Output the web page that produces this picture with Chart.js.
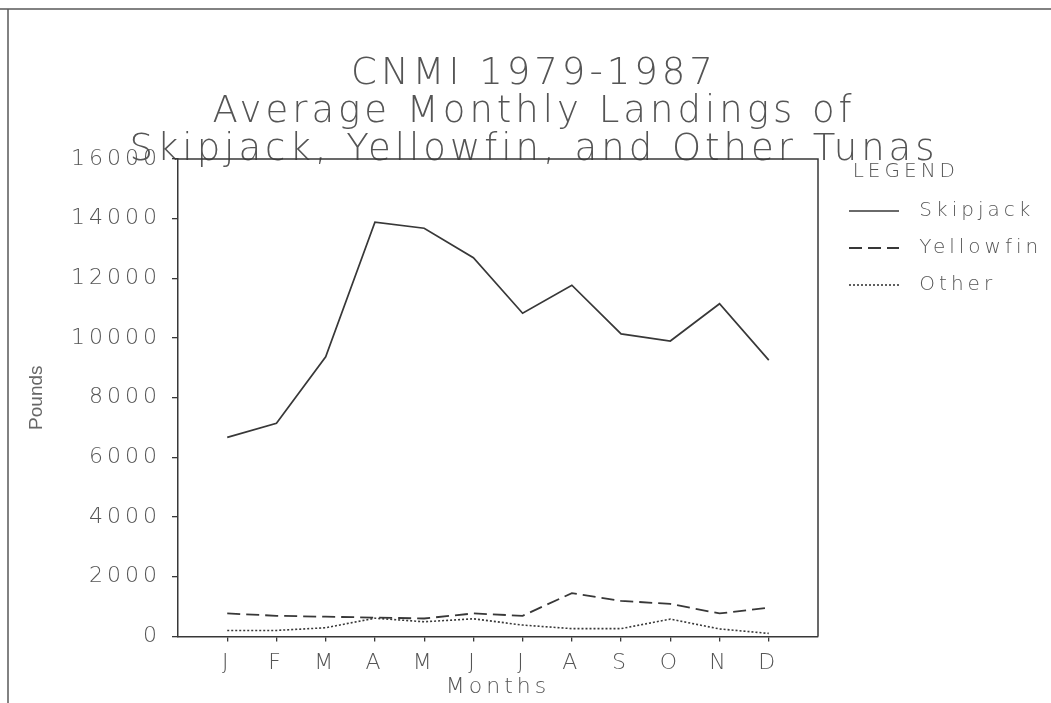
<!DOCTYPE html>
<html><head><meta charset="utf-8">
<script src="https://cdn.jsdelivr.net/npm/chart.js@4.4.1/dist/chart.umd.min.js"></script>
<style>html,body{margin:0;padding:0;background:#fff;}</style>
</head><body>
<canvas id="c" width="1051" height="703" style="width:1051px;height:703px;display:block"></canvas>
<script>
const titleLines = ['CNMI 1979-1987', 'Average Monthly Landings of', 'Skipjack, Yellowfin, and Other Tunas'];
const months = ['J','F','M','A','M','J','J','A','S','O','N','D'];
const seriesNames = ['Skipjack', 'Yellowfin', 'Other'];
const skipjack  = [6670, 7140, 9370, 13880, 13680, 12690, 10830, 11770, 10140, 9900, 11150, 9260];
const yellowfin = [770, 690, 660, 630, 600, 770, 690, 1450, 1190, 1090, 770, 960];
const other     = [200, 200, 290, 610, 490, 590, 380, 260, 260, 580, 250, 100];
const yTicks = [0, 2000, 4000, 6000, 8000, 10000, 12000, 14000, 16000];

const FONT = "'DejaVu Sans', sans-serif";
const TXT = '#555';
const LINE = '#383838';
const PLOT_RIGHT = 818, LEGEND_LEFT = 832, TITLE_CENTER = 534;
let rightGap = 14;

function pts(arr){ return arr.map((v,i)=>({x:i+1, y:v})); }

const spacing = {
  id: 'spacing',
  beforeUpdate(chart){ chart.ctx.letterSpacing = '4px'; },
  beforeLayout(chart){ chart.ctx.letterSpacing = '4px'; },
  afterLayout(chart){
    const lg = chart.legend;
    chart.$legendMeasured = lg.width;
    lg.left = LEGEND_LEFT; lg.right = 1051; lg.width = 1051 - LEGEND_LEFT;
    const t = chart.titleBlock;
    t.left = 0; t.right = TITLE_CENTER * 2; t.width = TITLE_CENTER * 2;
  },
  beforeDraw(chart){
    const ctx = chart.ctx;
    ctx.letterSpacing = '4px';
    ctx.save();
    ctx.strokeStyle = '#5a5a5a';
    ctx.lineWidth = 1.5;
    ctx.beginPath();
    ctx.moveTo(0, 9); ctx.lineTo(1051, 9);
    ctx.moveTo(8, 9); ctx.lineTo(8, 703);
    ctx.stroke();
    ctx.restore();
  },
  beforeDatasetsDraw(chart){
    const ctx = chart.ctx, a = chart.chartArea;
    ctx.letterSpacing = '0px';
    ctx.save();
    ctx.strokeStyle = LINE;
    ctx.lineWidth = 1.5;
    ctx.beginPath();
    ctx.moveTo(a.left, a.top); ctx.lineTo(a.right, a.top); ctx.lineTo(a.right, a.bottom);
    ctx.stroke();
    ctx.restore();
  }
};

const chart = new Chart(document.getElementById('c'), {
  type: 'line',
  data: {
    datasets: [
      { label: seriesNames[0], data: pts(skipjack), borderColor: LINE, backgroundColor: LINE, borderWidth: 1.7, pointRadius: 0, tension: 0 },
      { label: seriesNames[1], data: pts(yellowfin), borderColor: LINE, backgroundColor: LINE, borderWidth: 1.8, borderDash: [13, 6], pointRadius: 0, tension: 0 },
      { label: seriesNames[2], data: pts(other), borderColor: LINE, backgroundColor: LINE, borderWidth: 1.6, borderDash: [2, 2], pointRadius: 0, tension: 0 }
    ]
  },
  options: {
    responsive: false,
    devicePixelRatio: 1,
    animation: false,
    layout: { padding: { left: 10, right: 0, top: 0, bottom: 1.4 } },
    plugins: {
      tooltip: { enabled: false },
      title: {
        display: true, text: titleLines, color: TXT,
        font: { family: FONT, size: 37, weight: 200, lineHeight: 38/37 },
        padding: { top: 55, bottom: -10 }
      },
      legend: {
        position: 'right', align: 'start', fullSize: false,
        title: { display: true, text: '\u00a0\u00a0LEGEND', color: TXT, position: 'start',
                 font: { family: FONT, size: 20, weight: 200, lineHeight: 1.1 }, padding: { top: 3, bottom: 0 } },
        labels: {
          color: TXT, font: { family: FONT, size: 20, weight: 200 },
          usePointStyle: true, pointStyle: 'line', pointStyleWidth: 50, padding: 17,
          generateLabels(chart){
            return Chart.defaults.plugins.legend.labels.generateLabels(chart).map(l => {
              const ds = chart.data.datasets[l.datasetIndex];
              return Object.assign(l, { text: '\u00a0' + l.text, lineDash: ds.borderDash || [], lineWidth: ds.borderWidth, strokeStyle: ds.borderColor, fillStyle: ds.borderColor, pointStyle: 'line' });
            });
          }
        }
      }
    },
    scales: {
      x: {
        type: 'linear', position: 'bottom', min: 0, max: 13,
        afterBuildTicks(s){ s.ticks = months.map((m, i) => ({ value: i + 1 })); },
        afterFit(s){ s.height = 65.2; },
        ticks: { color: TXT, font: { family: FONT, size: 22, weight: 200 }, padding: 9, maxRotation: 0, autoSkip: false,
                 callback(v){ return months[v - 1] || ''; } },
        grid: { drawOnChartArea: false, tickLength: 5, color: LINE, lineWidth: 1.3 },
        border: { display: true, color: LINE, width: 1.5 },
        title: { display: true, text: 'Months', color: TXT, font: { family: FONT, size: 22, weight: 200 }, padding: { top: 0, bottom: 1 } }
      },
      y: {
        type: 'linear', position: 'left', min: 0, max: 16000,
        afterBuildTicks(s){ s.ticks = yTicks.map(v => ({ value: v })); },
        afterFit(s){ s.width = 168; },
        ticks: { color: TXT, font: { family: FONT, size: 22, weight: 200 }, padding: 11, callback(v){ return String(v); } },
        grid: { drawOnChartArea: false, tickLength: 6, color: LINE, lineWidth: 1.3, z: 1 },
        border: { display: true, color: LINE, width: 1.5 },
        title: { display: true, text: 'Pounds', color: '#666', font: { family: "'Liberation Sans', sans-serif", size: 19 }, padding: { top: 15.6, bottom: 25.8 } }
      },
      y2: {
        type: 'linear', position: 'right', min: 0, max: 16000,
        ticks: { display: false }, grid: { display: false },
        border: { display: false },
        afterFit(s){ s.width = rightGap; }
      }
    }
  },
  plugins: [spacing]
});
let gap = 1051 - PLOT_RIGHT - chart.$legendMeasured;
if (gap >= 0) { rightGap = gap; chart.options.layout.padding.right = 0; }
else { rightGap = 0; chart.options.layout.padding.right = gap; }
chart.update('none');
</script>
</body></html>
